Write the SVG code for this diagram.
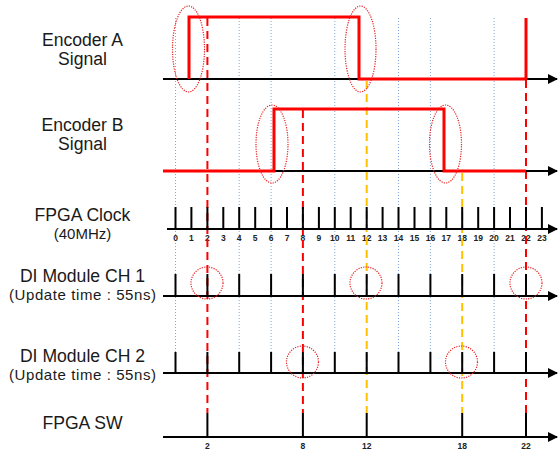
<svg xmlns="http://www.w3.org/2000/svg" width="560" height="453" viewBox="0 0 560 453">
<style>
.lbl{font-family:"Liberation Sans",Arial,sans-serif;font-size:17.6px;fill:#1a1a1a;text-anchor:middle}
.sub{font-family:"Liberation Sans",Arial,sans-serif;font-size:15px;fill:#1a1a1a;text-anchor:middle}
.num{font-family:"Liberation Sans",Arial,sans-serif;font-size:8.5px;font-weight:bold;fill:#222;text-anchor:middle}
.axis{stroke:#000;stroke-width:2;fill:none;marker-end:url(#arr)}
.tick{stroke:#000;stroke-width:2}
.sig{stroke:#ff0000;stroke-width:3;fill:none;stroke-linejoin:miter}
.grid{stroke:#7fa7d6;stroke-width:1;stroke-dasharray:1 2}
.dr{stroke:#ff0000;stroke-width:2;stroke-dasharray:8 5}
.dy{stroke:#ffc000;stroke-width:2;stroke-dasharray:8 5}
.ring{stroke:#e82020;stroke-width:1.2;stroke-dasharray:1.2 1.2;fill:none}
</style>
<defs>
<marker id="arr" viewBox="0 0 10 10" refX="9" refY="5" markerWidth="5" markerHeight="5" orient="auto" markerUnits="strokeWidth">
<path d="M0,0 L10,5 L0,10 z" fill="#000"/>
</marker>
</defs>
<rect width="560" height="453" fill="#fff"/>

<g id="grid">
<line class="grid" x1="175.5" y1="18" x2="175.5" y2="352"/>
<line class="grid" x1="239.2" y1="18" x2="239.2" y2="352"/>
<line class="grid" x1="271.1" y1="18" x2="271.1" y2="352"/>
<line class="grid" x1="334.8" y1="18" x2="334.8" y2="352"/>
<line class="grid" x1="398.5" y1="18" x2="398.5" y2="352"/>
<line class="grid" x1="430.4" y1="18" x2="430.4" y2="352"/>
<line class="grid" x1="494.1" y1="18" x2="494.1" y2="352"/>
</g>

<g id="clock-labels">
<text class="num" x="175.5" y="240.5">0</text>
<text class="num" x="191.4" y="240.5">1</text>
<text class="num" x="207.4" y="240.5">2</text>
<text class="num" x="223.3" y="240.5">3</text>
<text class="num" x="239.2" y="240.5">4</text>
<text class="num" x="255.2" y="240.5">5</text>
<text class="num" x="271.1" y="240.5">6</text>
<text class="num" x="287.0" y="240.5">7</text>
<text class="num" x="302.9" y="240.5">8</text>
<text class="num" x="318.9" y="240.5">9</text>
<text class="num" x="334.8" y="240.5">10</text>
<text class="num" x="350.7" y="240.5">11</text>
<text class="num" x="366.7" y="240.5">12</text>
<text class="num" x="382.6" y="240.5">13</text>
<text class="num" x="398.5" y="240.5">14</text>
<text class="num" x="414.5" y="240.5">15</text>
<text class="num" x="430.4" y="240.5">16</text>
<text class="num" x="446.3" y="240.5">17</text>
<text class="num" x="462.2" y="240.5">18</text>
<text class="num" x="478.2" y="240.5">19</text>
<text class="num" x="494.1" y="240.5">20</text>
<text class="num" x="510.0" y="240.5">21</text>
<text class="num" x="526.0" y="240.5">22</text>
<text class="num" x="541.9" y="240.5">23</text>
</g>

<g id="connectors">
<line class="dr" x1="207.4" y1="18" x2="207.4" y2="413"/>
<line class="dr" x1="302.9" y1="110" x2="302.9" y2="413"/>
<line class="dy" x1="366.7" y1="81" x2="366.7" y2="413"/>
<line class="dy" x1="462.2" y1="173" x2="462.2" y2="413"/>
<line class="dr" x1="526" y1="80" x2="526" y2="413"/>
</g>

<g id="encoder-a">
<text class="lbl" x="82.5" y="45.5">Encoder A</text>
<text class="lbl" x="82.5" y="65">Signal</text>
<line class="axis" x1="163" y1="79" x2="557" y2="79"/>
<path class="sig" d="M189,79 V17 H359 V79 H526"/>
<line class="sig" x1="526" y1="18" x2="526" y2="80"/>
<ellipse class="ring" cx="188.5" cy="49" rx="16" ry="43"/>
<ellipse class="ring" cx="360.5" cy="49" rx="15.5" ry="43"/>
</g>

<g id="encoder-b">
<text class="lbl" x="82.5" y="130.5">Encoder B</text>
<text class="lbl" x="82.5" y="150">Signal</text>
<line class="axis" x1="163" y1="171" x2="557" y2="171"/>
<path class="sig" d="M163,171 H274 V109 H444 V171 H526"/>
<ellipse class="ring" cx="272" cy="144" rx="16" ry="39"/>
<ellipse class="ring" cx="445.5" cy="144" rx="16" ry="39"/>
</g>

<g id="fpga-clock">
<text class="lbl" x="82.5" y="220.5">FPGA Clock</text>
<text class="sub" x="82.5" y="238.5">(40MHz)</text>
<line class="axis" x1="167" y1="229" x2="557" y2="229"/>
<path class="tick" d="M175.5,207V229M191.4,207V229M207.4,207V229M223.3,207V229M239.2,207V229M255.2,207V229M271.1,207V229M287,207V229M302.9,207V229M318.9,207V229M334.8,207V229M350.7,207V229M366.7,207V229M382.6,207V229M398.5,207V229M414.5,207V229M430.4,207V229M446.3,207V229M462.2,207V229M478.2,207V229M494.1,207V229M510,207V229M526,207V229M541.9,207V229"/>
</g>

<g id="di-ch1">
<text class="lbl" x="82.5" y="281.5">DI Module CH 1</text>
<text class="sub" x="82.5" y="299.5" textLength="147" lengthAdjust="spacing">(Update time : 55ns)</text>
<line class="axis" x1="163" y1="296" x2="557" y2="296"/>
<path class="tick" d="M175.5,274V296M207.4,274V296M239.2,274V296M271.1,274V296M302.9,274V296M334.8,274V296M366.7,274V296M398.5,274V296M430.4,274V296M462.2,274V296M494.1,274V296M526,274V296"/>
<circle class="ring" cx="207" cy="283" r="16"/>
<circle class="ring" cx="366" cy="283" r="16"/>
<circle class="ring" cx="526" cy="283" r="16"/>
</g>

<g id="di-ch2">
<text class="lbl" x="82.5" y="361.5">DI Module CH 2</text>
<text class="sub" x="82.5" y="379.5" textLength="147" lengthAdjust="spacing">(Update time : 55ns)</text>
<line class="axis" x1="163" y1="373" x2="557" y2="373"/>
<path class="tick" d="M175.5,352V373M207.4,352V373M239.2,352V373M271.1,352V373M302.9,352V373M334.8,352V373M366.7,352V373M398.5,352V373M430.4,352V373M462.2,352V373M494.1,352V373M526,352V373"/>
<circle class="ring" cx="302.5" cy="362" r="16"/>
<circle class="ring" cx="461.5" cy="362" r="16"/>
</g>

<g id="fpga-sw">
<text class="lbl" x="82.5" y="428.5">FPGA SW</text>
<line class="axis" x1="163" y1="437" x2="557" y2="437"/>
<path class="tick" d="M207.4,413V437M302.9,413V437M366.7,413V437M462.2,413V437M526,413V437"/>
<text class="num" x="207.4" y="448.5">2</text>
<text class="num" x="302.9" y="448.5">8</text>
<text class="num" x="366.7" y="448.5">12</text>
<text class="num" x="462.2" y="448.5">18</text>
<text class="num" x="526" y="448.5">22</text>
</g>
</svg>
